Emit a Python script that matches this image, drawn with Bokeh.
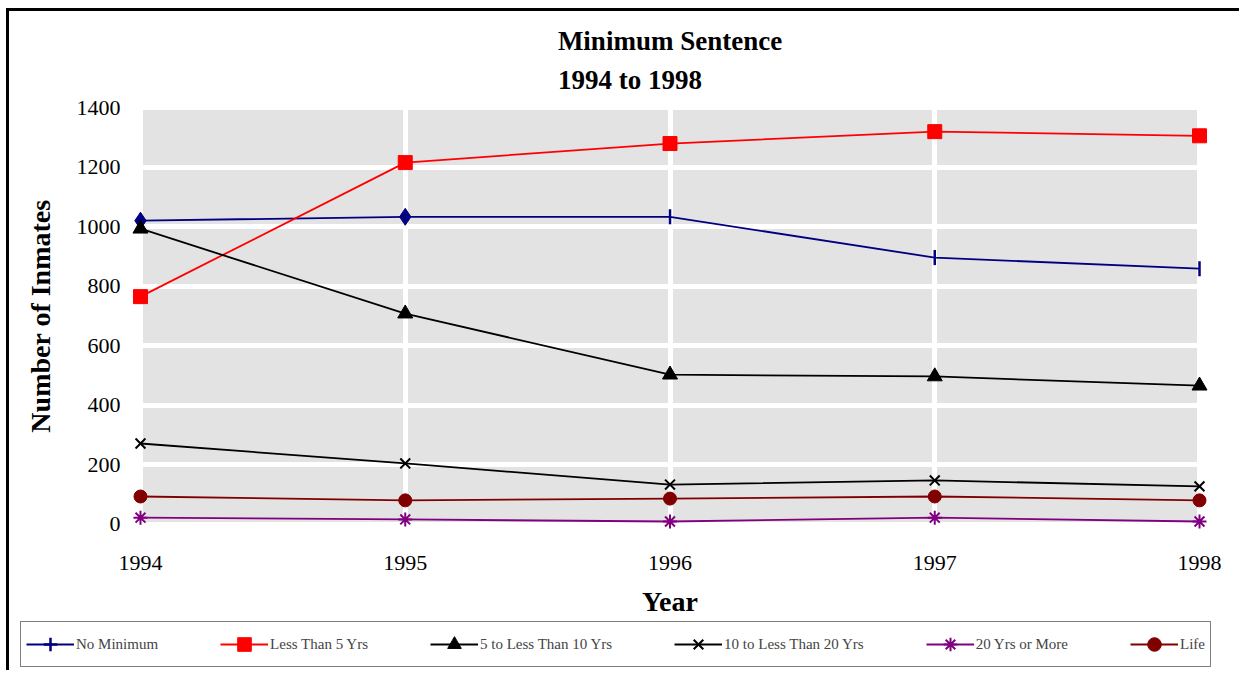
import numpy as np
from bokeh.plotting import figure
from bokeh.layouts import column
from bokeh.models import Range1d, FixedTicker, Legend, LegendItem
from bokeh.embed import file_html
from bokeh.resources import INLINE

years = [1994, 1995, 1996, 1997, 1998]
no_minimum = [1020, 1033, 1033, 896, 859]
less_5 = [765, 1215, 1279, 1319, 1305]
five_to_10 = [993, 708, 503, 497, 466]
ten_to_20 = [272, 205, 134, 148, 128]
twenty_plus = [23, 17, 10, 23, 10]
life = [94, 81, 87, 94, 81]
y_ticks = [0, 200, 400, 600, 800, 1000, 1200, 1400]
series_names = ["No Minimum", "Less Than 5 Yrs", "5 to Less Than 10 Yrs",
                "10 to Less Than 20 Yrs", "20 Yrs or More", "Life"]

FONT = "Liberation Serif"

# padding (in data units) so edge markers are not clipped by the frame
xpad = 0.0453
ypad = 40.3

p = figure(width=1230, height=609, output_backend="svg", toolbar_location=None,
           x_range=Range1d(years[0] - xpad, years[-1] + xpad),
           y_range=Range1d(y_ticks[0] - ypad, y_ticks[-1] + ypad),
           min_border_left=119, min_border_right=28, min_border_top=84, min_border_bottom=84)
p.frame_align = False

p.title.text = "Minimum Sentence\n1994 to 1998"
p.title.align = "center"
p.title.text_font = FONT
p.title.text_font_size = "27px"
p.title.text_font_style = "bold"
p.title.text_color = "black"
p.title.text_line_height = 1.3
p.title.standoff = 2

p.background_fill_color = "white"
p.outline_line_color = None
# gray plot area, exactly spanning the data range
p.quad(left=years[0], right=years[-1], bottom=y_ticks[0], top=y_ticks[-1],
       fill_color="#E3E3E3", line_color=None, level="image")
p.xgrid.grid_line_color = "white"
p.ygrid.grid_line_color = "white"
p.xgrid.grid_line_width = 5
p.ygrid.grid_line_width = 5

p.xaxis.ticker = FixedTicker(ticks=years)
p.yaxis.ticker = FixedTicker(ticks=y_ticks)
for ax in (p.xaxis, p.yaxis):
    ax.axis_line_color = None
    ax.major_tick_line_color = None
    ax.minor_tick_line_color = None
    ax.major_tick_out = 0
    ax.major_tick_in = 0
    ax.major_label_text_font = FONT
    ax.major_label_text_font_size = "22px"
    ax.major_label_text_color = "black"
    ax.axis_label_text_font = FONT
    ax.axis_label_text_font_size = "28px"
    ax.axis_label_text_font_style = "bold"
    ax.axis_label_text_color = "black"
p.xaxis.axis_label = "Year"
p.yaxis.axis_label = "Number of Inmates"
p.xaxis.major_label_standoff = 19
p.yaxis.major_label_standoff = 8
p.xaxis.axis_label_standoff = 13
p.yaxis.axis_label_standoff = 18

lw = 1.8
navy, red, black, purple, maroon = "#000080", "#FF0000", "#000000", "#800080", "#800000"
series_values = [no_minimum, less_5, five_to_10, ten_to_20, twenty_plus, life]

p.line(years, no_minimum, line_color=navy, line_width=lw)
p.scatter(years[2:], no_minimum[2:], marker="dash", angle=np.pi / 2, size=15,
          line_color=navy, line_width=2.5)
p.scatter(years[:2], no_minimum[:2], marker="diamond", size=17, fill_color=navy, line_color=navy)

p.line(years, less_5, line_color=red, line_width=lw)
p.scatter(years, less_5, marker="square", size=14, fill_color=red, line_color=red)

p.line(years, five_to_10, line_color=black, line_width=lw)
p.scatter(years, five_to_10, marker="triangle", size=15, fill_color=black, line_color=black)

p.line(years, ten_to_20, line_color=black, line_width=lw)
p.scatter(years, ten_to_20, marker="x", size=14, line_color=black, line_width=2)

p.line(years, twenty_plus, line_color=purple, line_width=lw)
p.scatter(years, twenty_plus, marker="asterisk", size=14, line_color=purple, line_width=2)

p.line(years, life, line_color=maroon, line_width=lw)
p.scatter(years, life, marker="circle", size=13, fill_color=maroon, line_color=maroon)

# ---- legend strip (separate figure below the chart) ----
lg = figure(width=1230, height=50, output_backend="svg", toolbar_location=None,
            x_axis_location=None, y_axis_location=None,
            x_range=Range1d(0, 1), y_range=Range1d(0, 1),
            min_border_left=0, min_border_right=0, min_border_top=0, min_border_bottom=0)
lg.frame_align = False
lg.outline_line_color = None
lg.xgrid.visible = False
lg.ygrid.visible = False

styles = [
    dict(color=navy, marker="cross", lwm=2.5),
    dict(color=red, marker="square", lwm=1),
    dict(color=black, marker="triangle", lwm=1),
    dict(color=black, marker="x", lwm=2),
    dict(color=purple, marker="asterisk", lwm=2),
    dict(color=maroon, marker="circle", lwm=1),
]
items = []
for name, vals, st in zip(series_names, series_values, styles):
    # same series data; it lies outside this strip's ranges, so only the legend glyph shows
    rl = lg.line(years, vals, line_color=st["color"], line_width=lw)
    rm = lg.scatter(years, vals, marker=st["marker"], size=14,
                    fill_color=st["color"], line_color=st["color"], line_width=st["lwm"])
    items.append(LegendItem(label=name, renderers=[rl, rm]))

legend = Legend(items=items, orientation="horizontal", location=(11, 3),
                label_text_font=FONT, label_text_font_size="15px",
                glyph_width=48, glyph_height=34, label_standoff=2, spacing=62,
                padding=5, margin=0, border_line_color="black", border_line_width=1,
                background_fill_alpha=1, background_fill_color="white")
lg.add_layout(legend, "center")

layout = column(p, lg, spacing=0,
                styles={"border-left": "3px solid black", "border-top": "3px solid black",
                        "margin-left": "6px", "margin-top": "8px"})

open("out.html", "w").write(file_html(layout, INLINE))
